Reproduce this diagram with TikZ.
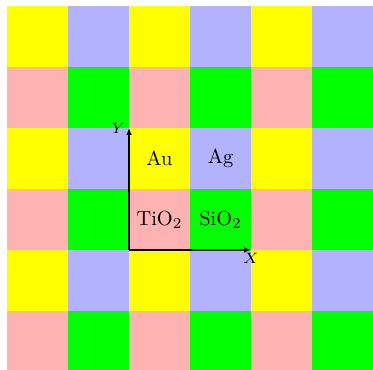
\documentclass[tikz,border=0pt]{standalone}
\usetikzlibrary{arrows.meta}
\begin{document}
\begin{tikzpicture}[
  x=1cm,y=1cm,
  lbl/.style={font=\fontsize{9.5}{11}\selectfont,inner sep=0pt},
  axlbl/.style={font=\scriptsize,inner sep=1.5pt},
  axis/.style={line width=1pt,-{Latex[length=3.2pt,width=2.6pt]}}
]
\useasboundingbox (-2.115,-1.967) rectangle (4,4.098);
\definecolor{cyel}{rgb}{1,1,0}
\definecolor{cblu}{rgb}{0.7,0.7,1}
\definecolor{cpnk}{rgb}{1,0.7,0.7}
\definecolor{cgrn}{rgb}{0,1,0}
\foreach \i in {-2,...,3}{
  \foreach \j in {-2,...,3}{
    \pgfmathtruncatemacro{\ci}{mod(\i+2,2)}
    \pgfmathtruncatemacro{\cj}{mod(\j+2,2)}
    \ifnum\cj=1
      \ifnum\ci=0 \def\cc{cyel}\else\def\cc{cblu}\fi
    \else
      \ifnum\ci=0 \def\cc{cpnk}\else\def\cc{cgrn}\fi
    \fi
    \fill[\cc] (\i,\j) rectangle ++(1,1);
  }
}
\coordinate (O) at (0,0);
\coordinate (Xe) at (2,0);
\coordinate (Ye) at (0,2);
\draw[axis] (O) -- (Xe);
\draw[axis] (O) -- (Ye);
\node[axlbl,below] (xl) at (Xe) {$X$};
\node[axlbl,left] (yl) at (Ye) {$Y$};
\node[lbl] (au) at (0.5,1.5) {Au};
\node[lbl] (ag) at (1.5,1.5) {Ag};
\node[lbl] (ti) at (0.5,0.5) {TiO$_2$};
\node[lbl] (si) at (1.5,0.5) {SiO$_2$};
\end{tikzpicture}
\end{document}
